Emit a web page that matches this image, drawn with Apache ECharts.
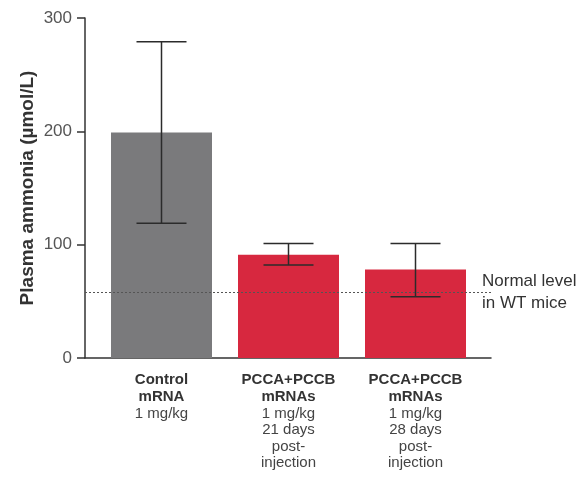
<!DOCTYPE html>
<html lang="en">
<head>
    <meta charset="utf-8">
    <title>ECharts</title>
    <script src="https://cdn.jsdelivr.net/npm/echarts@6/dist/echarts.min.js"></script>
    <style>html,body{margin:0;padding:0;background:#fff;}</style>
</head>
<body>
<div id="main" style="width: 584px;height:493px;"></div>
<script type="text/javascript">
    var groupNames = ['Control\nmRNA', 'PCCA+PCCB\nmRNAs', 'PCCA+PCCB\nmRNAs'];
    var groupDetails = ['1 mg/kg', '1 mg/kg\n21 days\npost-\ninjection', '1 mg/kg\n28 days\npost-\ninjection'];
    var means = [199, 91, 78];
    var errLow = [119, 82, 54];
    var errHigh = [279, 101, 101];
    var normalLevel = 58;
    var barColors = ['#7a7a7c', '#d7283f', '#d7283f'];

    var myChart = echarts.init(document.getElementById('main'));
    var font = '"Liberation Sans", Arial, sans-serif';

    var errData = means.map(function (m, i) { return [i, errLow[i], errHigh[i]]; });

    option = {
        animation: false,
        grid: [
            { left: 98, right: 105, top: 18, bottom: 135 },
            { left: 85, right: 93, top: 18, bottom: 135 }
        ],
        xAxis: [{
            type: 'category',
            gridIndex: 0,
            data: groupNames.map(function (n, i) { return i; }),
            axisLine: { show: false },
            axisTick: { show: false },
            axisLabel: {
                margin: 14,
                interval: 0,
                formatter: function (v) {
                    var i = +v;
                    var out = groupNames[i].split('\n').map(function (s) { return '{b|' + s + '}'; });
                    groupDetails[i].split('\n').forEach(function (s) { out.push('{n|' + s + '}'); });
                    return out.join('\n');
                },
                rich: {
                    b: { fontFamily: font, fontSize: 15, fontWeight: 'bold', color: '#333', lineHeight: 16.6 },
                    n: { fontFamily: font, fontSize: 15, color: '#444', lineHeight: 16.6 }
                }
            }
        }, {
            type: 'category',
            gridIndex: 1,
            data: ['x'],
            axisLine: { lineStyle: { color: '#333', width: 1.5 } },
            axisTick: { show: false },
            axisLabel: { show: false }
        }],
        yAxis: [{
            type: 'value',
            gridIndex: 0,
            min: 0,
            max: 300,
            interval: 100,
            offset: 13,
            name: 'Plasma ammonia (µmol/L)',
            nameLocation: 'middle',
            nameGap: 48,
            nameMoveOverlap: false,
            nameTextStyle: { fontFamily: font, fontSize: 19, fontWeight: 'bold', color: '#333' },
            splitLine: { show: false },
            axisLine: { show: true, lineStyle: { color: '#333', width: 1.5 } },
            axisTick: { show: true, length: 8, lineStyle: { color: '#333', width: 1.5 } },
            axisLabel: { fontFamily: font, fontSize: 17, color: '#555', margin: 13 }
        }, {
            type: 'value',
            gridIndex: 1,
            min: 0,
            max: 300,
            show: false
        }],
        series: [{
            type: 'bar',
            xAxisIndex: 0,
            yAxisIndex: 0,
            barWidth: 101,
            data: means.map(function (m, i) {
                return { value: m, itemStyle: { color: barColors[i] } };
            })
        }, {
            type: 'custom',
            xAxisIndex: 0,
            yAxisIndex: 0,
            data: errData,
            z: 5,
            renderItem: function (params, api) {
                var x = api.value(0);
                var lo = api.coord([x, api.value(1)]);
                var hi = api.coord([x, api.value(2)]);
                var half = 25;
                var style = { stroke: '#2b2b2b', lineWidth: 1.5 };
                return {
                    type: 'group',
                    children: [
                        { type: 'line', shape: { x1: hi[0], y1: hi[1], x2: lo[0], y2: lo[1] }, style: style },
                        { type: 'line', shape: { x1: hi[0] - half, y1: hi[1], x2: hi[0] + half, y2: hi[1] }, style: style },
                        { type: 'line', shape: { x1: lo[0] - half, y1: lo[1], x2: lo[0] + half, y2: lo[1] }, style: style }
                    ]
                };
            }
        }, {
            type: 'line',
            xAxisIndex: 1,
            yAxisIndex: 1,
            data: [],
            markLine: {
                silent: true,
                symbol: 'none',
                lineStyle: { type: [2, 2], color: '#555', width: 1 },
                label: {
                    position: 'end',
                    distance: -9,
                    formatter: 'Normal level\nin WT mice',
                    fontFamily: font,
                    fontSize: 17,
                    color: '#333',
                    lineHeight: 22,
                    align: 'left'
                },
                data: [{ yAxis: normalLevel }]
            }
        }]
    };

    myChart.setOption(option);
</script>
</body>
</html>
